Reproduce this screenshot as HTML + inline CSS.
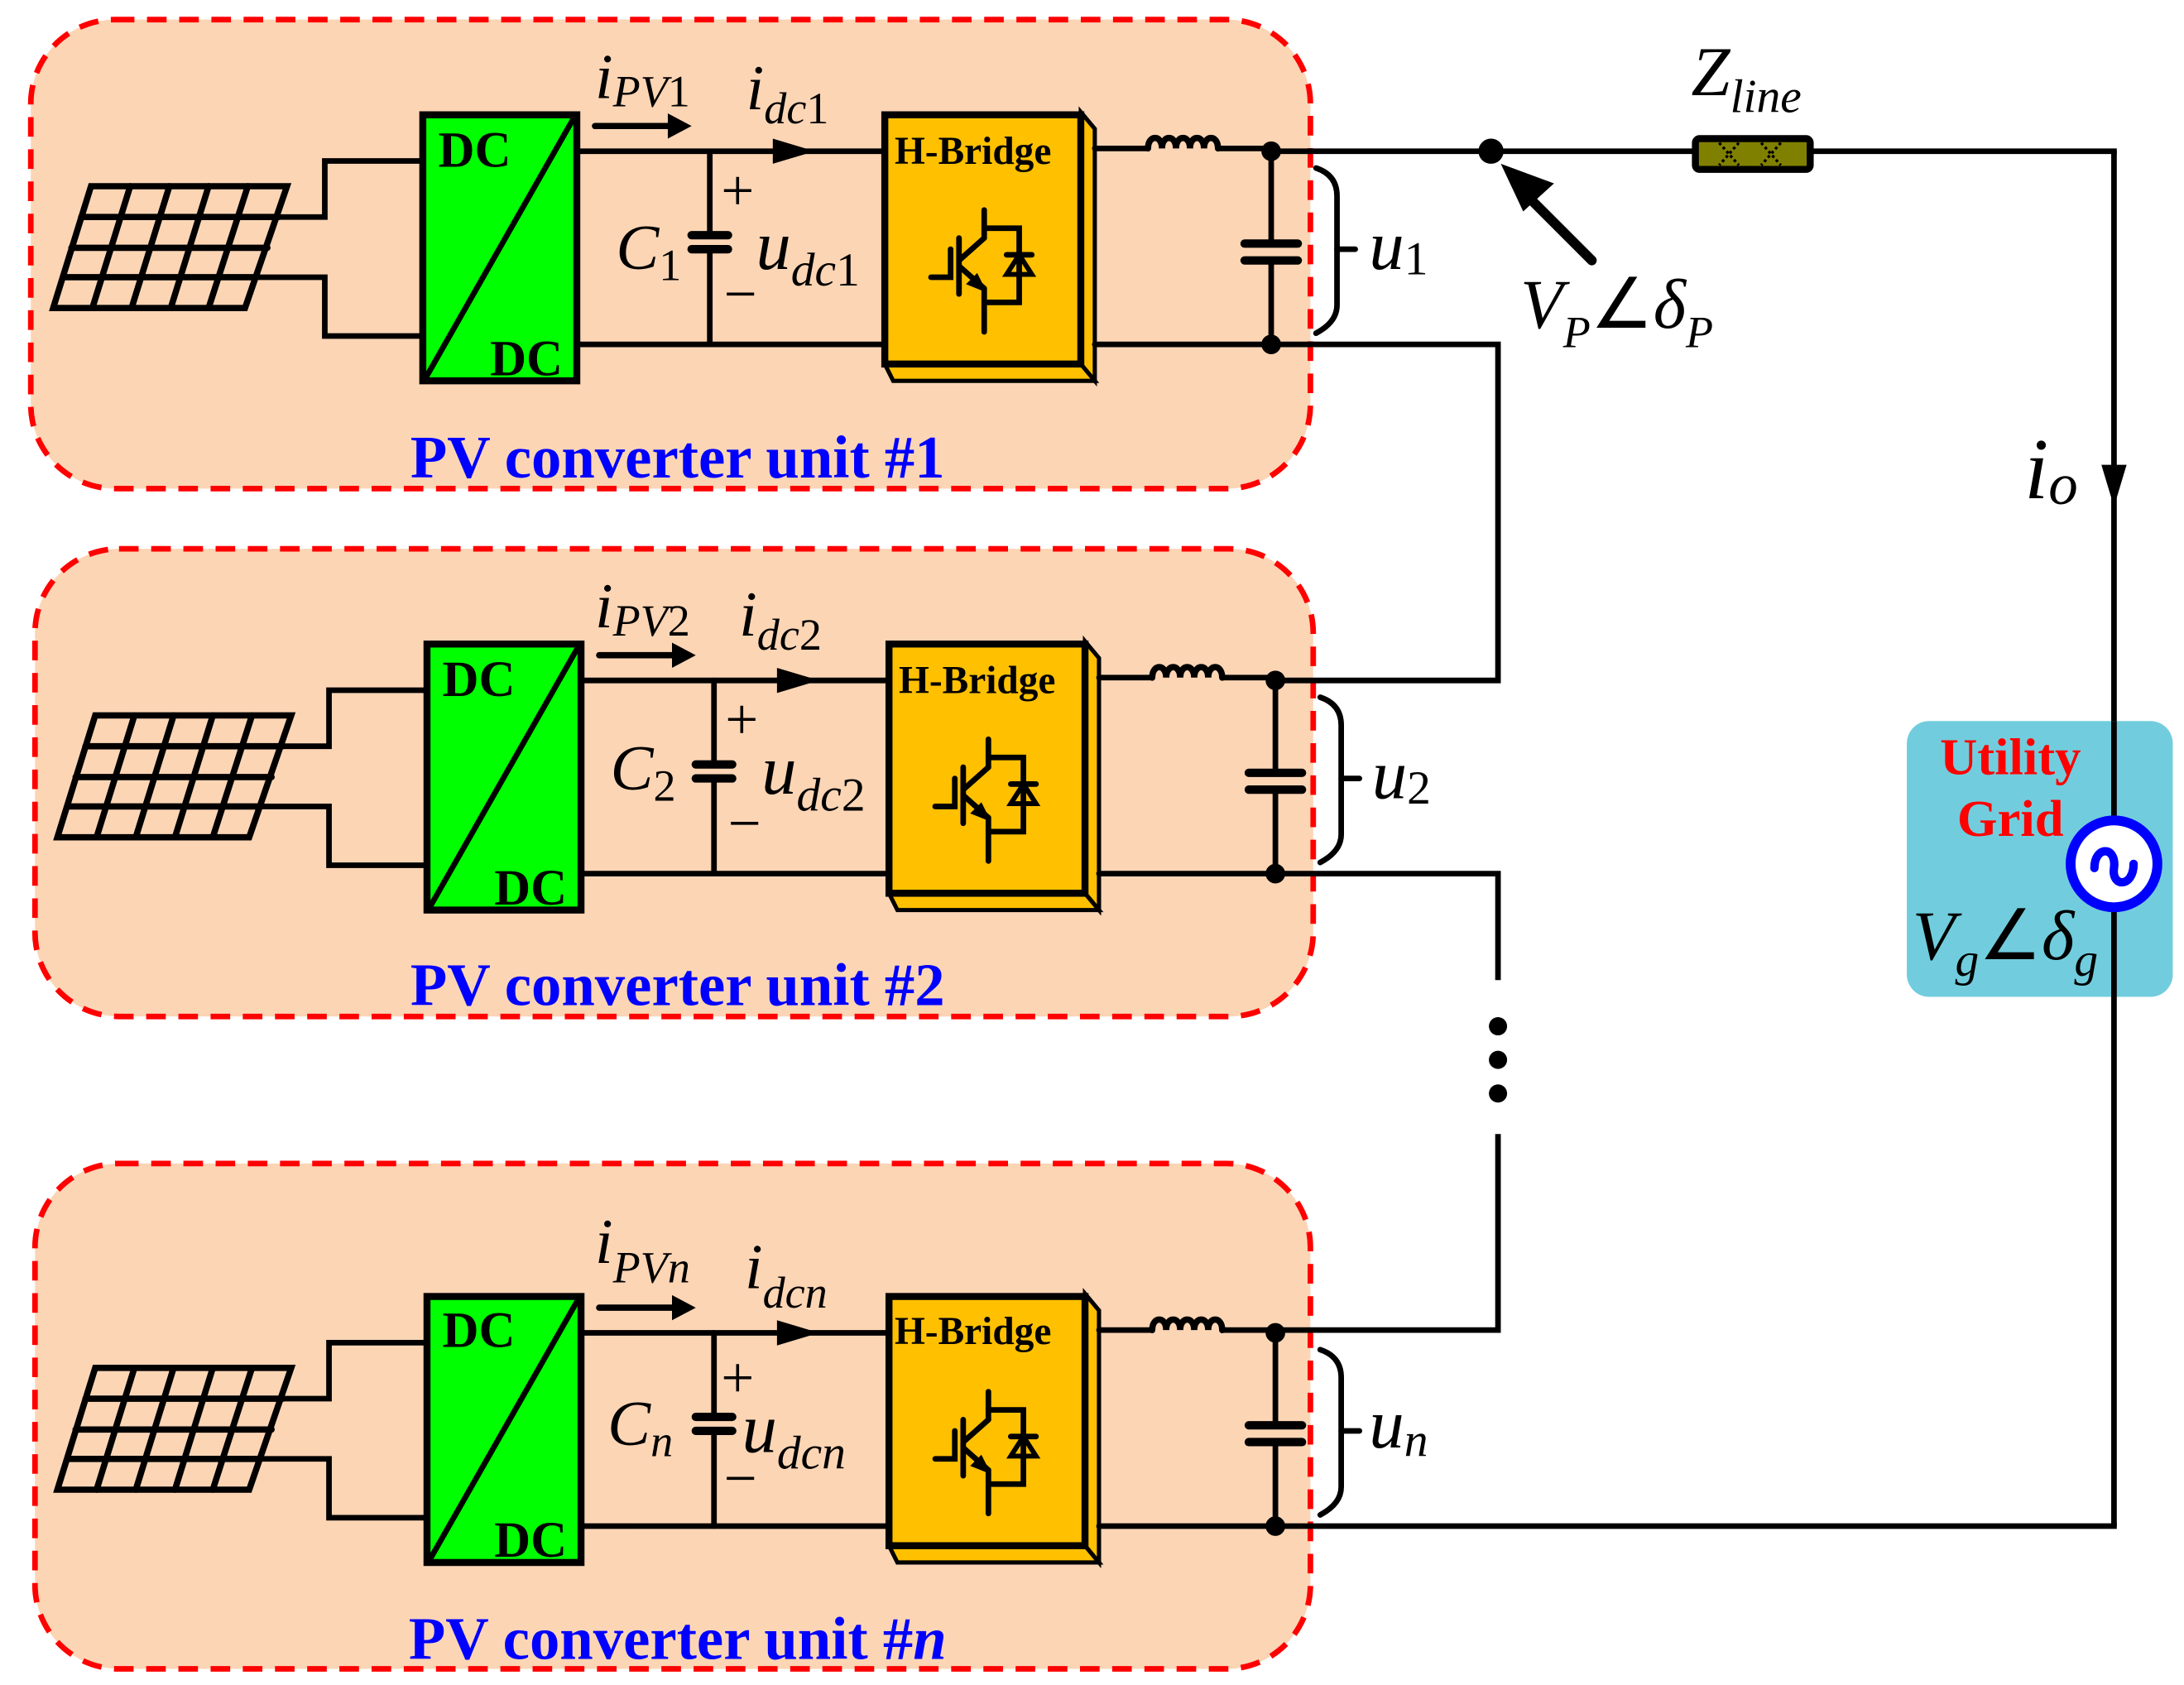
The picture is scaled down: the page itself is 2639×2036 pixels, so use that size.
<!DOCTYPE html>
<html><head><meta charset="utf-8"><style>
html,body{margin:0;padding:0;background:#fff;}
svg{display:block;}
.it{font-family:"Liberation Serif",serif;font-style:italic;fill:#000;}
.rm{font-family:"Liberation Serif",serif;fill:#000;}
.bl{font-family:"Liberation Serif",serif;font-weight:bold;fill:#0000ff;font-size:43px;}
</style></head><body>
<svg width="2639" height="2036" viewBox="0 0 1560 1203.5" preserveAspectRatio="none" xmlns="http://www.w3.org/2000/svg">
<defs>
<g id="unit" stroke="#000" stroke-width="4" fill="none" stroke-linecap="round">
  <g stroke-width="4.5">
    <polygon points="65,133 205,133 175,220 38,220"/>
    <line x1="58" y1="155" x2="199" y2="155"/>
    <line x1="51" y1="177" x2="191" y2="177"/>
    <line x1="45" y1="198" x2="183" y2="198"/>
    <line x1="93" y1="133" x2="66" y2="220"/>
    <line x1="121" y1="133" x2="94" y2="220"/>
    <line x1="149" y1="133" x2="122" y2="220"/>
    <line x1="177" y1="133" x2="149" y2="220"/>
  </g>
  <polyline points="199,155 232,155 232,115 300,115"/>
  <polyline points="183,198 232,198 232,240 300,240"/>
  <rect x="302" y="82" width="110" height="190" fill="#00ff00" stroke-width="5"/>
  <line x1="304" y1="270" x2="410" y2="84" stroke-width="4"/>
  <line x1="412" y1="108" x2="632" y2="108"/>
  <line x1="412" y1="246" x2="632" y2="246"/>
  <polygon points="552,99 582,108 552,117" fill="#000" stroke="none"/>
  <line x1="507" y1="108" x2="507" y2="168"/>
  <line x1="507" y1="178" x2="507" y2="246"/>
  <line x1="494" y1="168" x2="520" y2="168" stroke-width="6"/>
  <line x1="494" y1="178" x2="520" y2="178" stroke-width="6"/>
  <line x1="425" y1="90" x2="482" y2="90" stroke-width="4.5"/>
  <polygon points="477,81 494,90 477,99" fill="#000" stroke="none"/>
  <polygon points="772,80 782,92 782,272 772,260" fill="#ffc000" stroke-width="3"/>
  <polygon points="632,260 772,260 782,272 638,272" fill="#ffc000" stroke-width="3"/>
  <rect x="632" y="82" width="140" height="178" fill="#ffc000" stroke-width="5"/>
  <line x1="703" y1="150" x2="703" y2="170"/>
  <line x1="703" y1="170" x2="685" y2="186"/>
  <line x1="685" y1="190" x2="703" y2="206"/>
  <polygon points="705,209 690,203 698,195" fill="#000" stroke="none"/>
  <line x1="703" y1="206" x2="703" y2="237"/>
  <line x1="685" y1="170" x2="685" y2="210"/>
  <polyline points="679,178 679,198 665,198"/>
  <polyline points="703,163 728,163 728,216 703,216"/>
  <line x1="719" y1="182" x2="737" y2="182"/>
  <polygon points="728,182 719,196 737,196" stroke-width="3.5"/>
  <line x1="782" y1="106" x2="820" y2="106"/>
  <path d="M820,106 c0,-10 10,-10 10,0 c0,-10 10,-10 10,0 c0,-10 10,-10 10,0 c0,-10 10,-10 10,0 c0,-10 10,-10 10,0" stroke-width="4.5"/>
  <line x1="870" y1="106" x2="908" y2="106"/>
  <line x1="782" y1="246" x2="908" y2="246"/>
  <circle cx="908" cy="108" r="5" fill="#000"/>
  <circle cx="908" cy="246" r="5" fill="#000"/>
  <line x1="908" y1="108" x2="908" y2="174"/>
  <line x1="908" y1="186" x2="908" y2="246"/>
  <line x1="889" y1="174" x2="927" y2="174" stroke-width="6"/>
  <line x1="889" y1="186" x2="927" y2="186" stroke-width="6"/>
  <path d="M940,120 q15,5 15,20 v78 q0,12 -15,20" stroke-width="4"/>
  <line x1="955" y1="178" x2="968" y2="178"/>
</g>
</defs>

<rect x="22" y="14" width="914" height="335" rx="60" fill="#fcd5b5" stroke="#ff0000" stroke-width="4" stroke-dasharray="14,9"/>
<rect x="25" y="392" width="913" height="334" rx="60" fill="#fcd5b5" stroke="#ff0000" stroke-width="4" stroke-dasharray="14,9"/>
<rect x="25" y="831" width="911" height="361" rx="60" fill="#fcd5b5" stroke="#ff0000" stroke-width="4" stroke-dasharray="14,9"/>

<use href="#unit"/>
<use href="#unit" transform="translate(3,378)"/>
<use href="#unit" transform="translate(3,844)"/>

<g stroke="#000" stroke-width="4" fill="none">
  <line x1="908" y1="108" x2="1210" y2="108"/>
  <line x1="1293" y1="108" x2="1512" y2="108"/>
  <line x1="1510" y1="108" x2="1510" y2="1090"/>
  <polyline points="908,246 1070,246 1070,486 911,486"/>
  <polyline points="911,624 1070,624 1070,700"/>
  <polyline points="1070,810 1070,950 911,950"/>
  <line x1="911" y1="1090" x2="1512" y2="1090"/>
</g>
<circle cx="1070" cy="733" r="6.5"/><circle cx="1070" cy="757" r="6.5"/><circle cx="1070" cy="781" r="6.5"/>
<circle cx="1065" cy="108" r="9"/>
<rect x="1211" y="99" width="82" height="22" rx="3" fill="#808000" stroke="#000" stroke-width="5"/>
<path d="M1228,102 l14,16 M1242,102 l-14,16 M1258,102 l14,16 M1272,102 l-14,16" stroke="#000" stroke-width="2" stroke-dasharray="2,2"/>
<line x1="1137" y1="186" x2="1085" y2="134" stroke="#000" stroke-width="7" stroke-linecap="round"/>
<polygon points="1072,117 1110,131 1088,151" fill="#000"/>
<polygon points="1501,332 1519,332 1510,362" fill="#000"/>

<rect x="1362" y="515" width="190" height="197" rx="16" fill="#71cddd"/>
<line x1="1510" y1="515" x2="1510" y2="712" stroke="#000" stroke-width="4"/>
<circle cx="1510" cy="617" r="31" fill="#fff" stroke="#0000ff" stroke-width="7"/>
<path d="M1496,620 c0,-16 16,-16 14,0 c-2,14 14,14 14,-3" fill="none" stroke="#0000ff" stroke-width="6" stroke-linecap="round"/>
<text x="1436" y="553" font-family="Liberation Serif,serif" font-weight="bold" font-size="37" fill="#ff0000" text-anchor="middle">Utility</text>
<text x="1436" y="597" font-family="Liberation Serif,serif" font-weight="bold" font-size="37" fill="#ff0000" text-anchor="middle">Grid</text>
<text class="it" x="1366" y="685" font-size="50">V<tspan font-size="34" dy="12">g</tspan><tspan font-style="normal" dy="-12">∠</tspan>δ<tspan font-size="34" dy="12">g</tspan></text>

<text class="it" x="1208" y="68" font-size="50">Z<tspan font-size="34" dy="12">line</tspan></text>
<text class="it" x="1086" y="234" font-size="50">V<tspan font-size="32" dy="14">P</tspan><tspan font-style="normal" dy="-14">∠</tspan>δ<tspan font-size="32" dy="14">P</tspan></text>
<text class="it" x="1446" y="356" font-size="62">i<tspan font-size="42" dy="4">o</tspan></text>

<text class="bl" x="484" y="341" text-anchor="middle">PV converter unit #1</text>
<text class="bl" x="484" y="718" text-anchor="middle">PV converter unit #2</text>
<text class="bl" x="484" y="1185" text-anchor="middle">PV converter unit #<tspan font-style="italic">n</tspan></text>

<g font-family="Liberation Serif,serif" font-weight="bold" font-size="36" fill="#000">
<text x="313" y="119">DC</text><text x="350" y="268">DC</text>
<text x="316" y="497">DC</text><text x="353" y="646">DC</text>
<text x="316" y="962">DC</text><text x="353" y="1112">DC</text>
<text x="639" y="117" font-size="28">H-Bridge</text>
<text x="642" y="495" font-size="28">H-Bridge</text>
<text x="639" y="960" font-size="28">H-Bridge</text>
</g>

<g font-family="Liberation Serif,serif" font-size="46">
<text class="it" x="425" y="70">i<tspan font-size="32" dy="6">PV</tspan><tspan font-size="32" font-style="normal">1</tspan></text>
<text class="it" x="533" y="78">i<tspan font-size="32" dy="10">dc</tspan><tspan font-size="32" font-style="normal">1</tspan></text>
<text class="rm" x="515" y="150" font-size="42">+</text>
<text class="rm" x="517" y="224" font-size="42">−</text>
<text class="it" x="440" y="192">C<tspan class="rm" font-style="normal" font-size="32" dy="8">1</tspan></text>
<text class="it" x="540" y="192" font-size="50">u<tspan font-size="34" dy="12">dc</tspan><tspan font-size="34" font-style="normal">1</tspan></text>
<text class="it" x="978" y="192" font-size="50">u<tspan font-size="34" dy="4" font-style="normal">1</tspan></text>

<text class="it" x="425" y="448">i<tspan font-size="32" dy="6">PV</tspan><tspan font-size="32" font-style="normal">2</tspan></text>
<text class="it" x="528" y="454">i<tspan font-size="32" dy="10">dc</tspan><tspan font-size="32" font-style="normal">2</tspan></text>
<text class="rm" x="518" y="528" font-size="42">+</text>
<text class="rm" x="520" y="602" font-size="42">−</text>
<text class="it" x="436" y="564">C<tspan class="rm" font-style="normal" font-size="32" dy="8">2</tspan></text>
<text class="it" x="544" y="567" font-size="50">u<tspan font-size="34" dy="12">dc</tspan><tspan font-size="34" font-style="normal">2</tspan></text>
<text class="it" x="980" y="570" font-size="50">u<tspan font-size="34" dy="4" font-style="normal">2</tspan></text>

<text class="it" x="425" y="902">i<tspan font-size="32" dy="14">PVn</tspan></text>
<text class="it" x="532" y="920">i<tspan font-size="32" dy="14">dcn</tspan></text>
<text class="rm" x="515" y="998" font-size="42">+</text>
<text class="rm" x="517" y="1070" font-size="42">−</text>
<text class="it" x="434" y="1032">C<tspan font-size="32" dy="8">n</tspan></text>
<text class="it" x="530" y="1037" font-size="50">u<tspan font-size="34" dy="12">dcn</tspan></text>
<text class="it" x="978" y="1034" font-size="50">u<tspan font-size="34" dy="6">n</tspan></text>
</g>
</svg>
</body></html>
